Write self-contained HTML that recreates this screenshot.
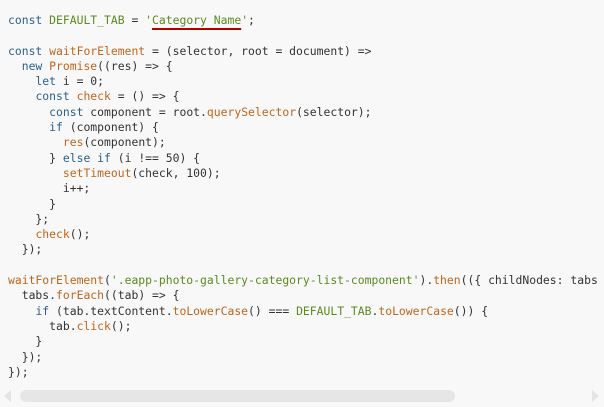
<!DOCTYPE html>
<html><head><meta charset="utf-8"><style>
html,body{margin:0;padding:0;}
body{width:604px;height:407px;background:#f8f8f8;position:relative;overflow:hidden;}
.wrap{position:absolute;left:0;top:0;width:599px;height:385px;overflow:hidden;}
pre{position:absolute;left:8px;top:13px;margin:0;font-family:"DejaVu Sans Mono","Liberation Mono",monospace;font-size:11.4px;line-height:15.3px;color:#333;white-space:pre;}
.k{color:#2b5f8c}.f{color:#c0651c}.s{color:#5b8a1f}
.u{text-decoration:underline;text-decoration-color:#b00000;text-decoration-thickness:2px;text-underline-offset:4px}
.sb{position:absolute;left:20px;top:390px;width:435px;height:12px;border-radius:6px;background:#e6e6e6}
.al{position:absolute;left:4px;top:390px;width:0;height:0;border-top:6px solid transparent;border-bottom:6px solid transparent;border-right:7px solid #e4e4e4}
.ar{position:absolute;left:592px;top:390px;width:0;height:0;border-top:6px solid transparent;border-bottom:6px solid transparent;border-left:7px solid #e4e4e4}
</style></head><body>
<div class="wrap"><pre><span class="k">const</span> <span class="s">DEFAULT_TAB</span> = <span class="s">'<span class="u">Category Name</span>'</span>;

<span class="k">const</span> <span class="f">waitForElement</span> = (selector, root = document) =&gt;
  <span class="k">new</span> <span class="f">Promise</span>((res) =&gt; {
    <span class="k">let</span> i = 0;
    <span class="k">const</span> <span class="f">check</span> = () =&gt; {
      <span class="k">const</span> component = root.<span class="f">querySelector</span>(selector);
      <span class="k">if</span> (component) {
        <span class="f">res</span>(component);
      } <span class="k">else if</span> (i !== 50) {
        <span class="f">setTimeout</span>(check, 100);
        i++;
      }
    };
    <span class="f">check</span>();
  });

<span class="f">waitForElement</span>(<span class="s">'.eapp-photo-gallery-category-list-component'</span>).<span class="f">then</span>(({ childNodes: tabs
  tabs.<span class="f">forEach</span>((tab) =&gt; {
    <span class="k">if</span> (tab.textContent.<span class="f">toLowerCase</span>() === <span class="s">DEFAULT_TAB</span>.<span class="f">toLowerCase</span>()) {
      tab.<span class="f">click</span>();
    }
  });
});</pre></div>
<div class="al"></div><div class="sb"></div><div class="ar"></div>
</body></html>
